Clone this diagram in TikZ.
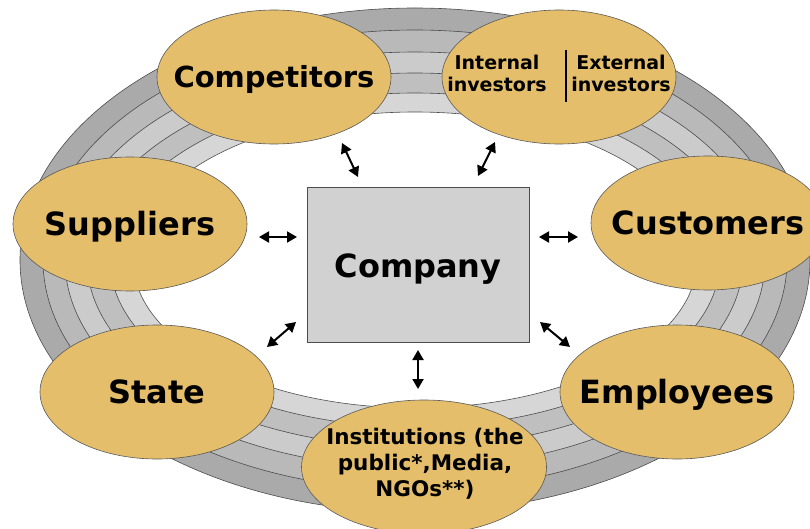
\documentclass[tikz,border=0pt]{standalone}
\usepackage{fontspec}
\setmainfont{DejaVu Sans}
\usepackage{xcolor}
\usetikzlibrary{shapes.geometric,arrows.meta,positioning}

\definecolor{partygold}{HTML}{E4BE6A}
\definecolor{ringA}{HTML}{AAAAAA}
\definecolor{ringB}{HTML}{B9B9B9}
\definecolor{ringC}{HTML}{CBCBCB}
\definecolor{ringD}{HTML}{BFBFBF}
\definecolor{ringE}{HTML}{D6D6D6}
\definecolor{boxgray}{HTML}{D1D1D1}

\tikzset{
  party/.style={ellipse, draw=black!65, line width=0.6pt, fill=partygold,
    minimum width=234pt, minimum height=134pt, inner sep=0pt},
  biglbl/.style={font=\fontsize{32}{36}\selectfont\bfseries, text height=23pt, text depth=0pt, inner sep=0pt},
  smalllbl/.style={font=\fontsize{19}{22}\selectfont\bfseries, align=center, inner sep=0pt},
  link/.style={{Triangle[length=10pt,width=11pt]}-{Triangle[length=10pt,width=11pt]}, line width=2pt},
}

\begin{document}
\begin{tikzpicture}[x=1pt,y=-1pt]
    \useasboundingbox (0,0) rectangle (810,529);

    % Rings
    \foreach \rx/\ry/\col in {395/252/ringA, 372/230/ringB, 350/208/ringC, 328/187/ringD, 305/167/ringE}
        \draw[draw=black!70, line width=0.6pt, fill=\col] (415,260) ellipse [x radius=\rx, y radius=\ry];
    \draw[draw=black!70, line width=0.6pt, fill=white] (415,260) ellipse [x radius=282, y radius=148];

    % Company
    \node[draw=black!70, line width=0.8pt, fill=boxgray, minimum width=222pt, minimum height=155pt,
        label={[biglbl, yshift=-1.5pt]center:Company}] (company) at (418,264.5) {};

    % Parties
    \node[party, label={[biglbl, font=\fontsize{29}{34}\selectfont\bfseries, text height=21pt]center:Competitors}] (comp) at (274,77) {};
    \node[party] (inv) at (559,77) {};
    \node[party, label={[biglbl]center:Suppliers}] (supp) at (130,224) {};
    \node[party, label={[biglbl]center:Customers}] (cust) at (708,223) {};
    \node[party, label={[biglbl]center:State}] (state) at (157,392) {};
    \node[party, label={[biglbl]center:Employees}] (empl) at (677,392) {};
    \node[party, minimum width=245pt] (inst) at (424,467) {};

    \node[smalllbl] (intinv) at (497,73) {Internal\\investors};
    \node[smalllbl] (extinv) at (621,73) {External\\investors};
    \draw[line width=1.5pt] (566,50) -- (566,102);
    \node[smalllbl, font=\fontsize{21.5}{26}\selectfont\bfseries] (insttxt) at (425,464)
        {Institutions (the\\public*,Media,\\NGOs**)};

    % Links
    \coordinate (compA) at (342,143); \coordinate (compB) at (358,177);
    \coordinate (invA) at (495,142);  \coordinate (invB) at (478,176);
    \coordinate (suppA) at (259,237); \coordinate (suppB) at (297,237);
    \coordinate (custA) at (539,237); \coordinate (custB) at (578,237);
    \coordinate (stateA) at (267,347); \coordinate (stateB) at (296,322);
    \coordinate (emplA) at (540,322); \coordinate (emplB) at (570,347);
    \coordinate (instA) at (418,350); \coordinate (instB) at (418,389);

    \draw[link] (compA) -- (compB);
    \draw[link] (invA) -- (invB);
    \draw[link] (suppA) -- (suppB);
    \draw[link] (custA) -- (custB);
    \draw[link] (stateA) -- (stateB);
    \draw[link] (emplA) -- (emplB);
    \draw[link] (instA) -- (instB);
\end{tikzpicture}
\end{document}
